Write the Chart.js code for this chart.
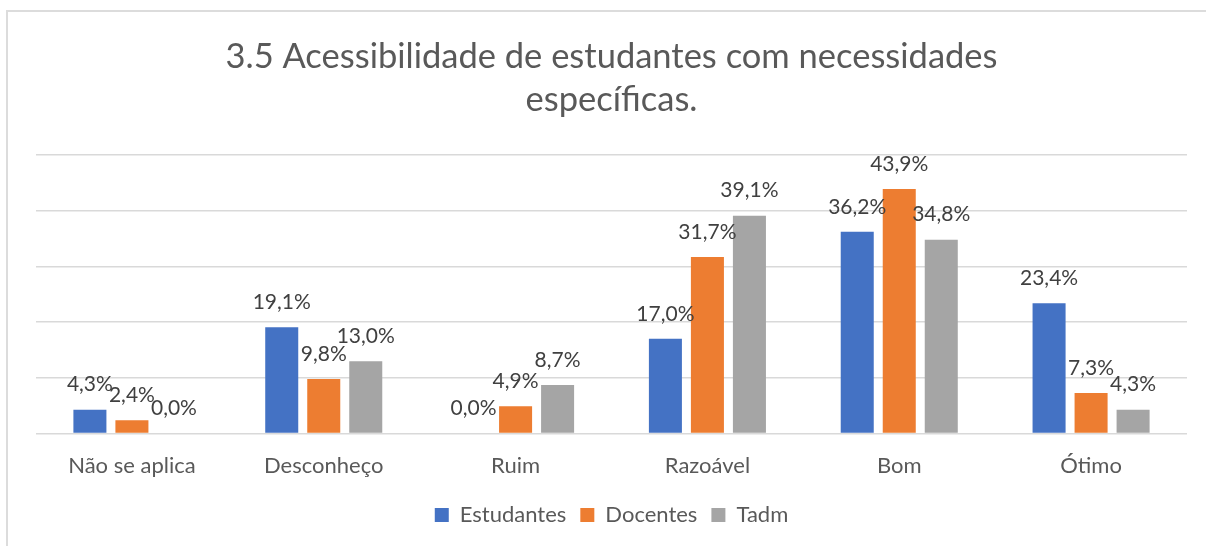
<!DOCTYPE html>
<html>
<head>
<meta charset="utf-8">
<script src="https://cdn.jsdelivr.net/npm/chart.js@4.4.1/dist/chart.umd.min.js"></script>
<style>
  html, body { margin: 0; padding: 0; background: #fff; }
  #caixa { position: relative; width: 1206px; height: 546px; overflow: hidden; }
  #moldura { position: absolute; left: 6px; top: 10px; width: 1300px; height: 700px;
             border-top: 2px solid #dcdcdc; border-left: 2px solid #dcdcdc; pointer-events: none; }
  canvas { position: absolute; left: 0; top: 0; }
</style>
</head>
<body>
<div id="caixa">
  <canvas id="grafico" width="1206" height="546"></canvas>
  <div id="moldura"></div>
</div>
<script>
// Dados do gráfico (percentuais)
const categorias = ['Não se aplica', 'Desconheço', 'Ruim', 'Razoável', 'Bom', 'Ótimo'];
const estudantes = [4.3, 19.1, 0.0, 17.0, 36.2, 23.4];
const docentes = [2.4, 9.8, 4.9, 31.7, 43.9, 7.3];
const tadm = [0.0, 13.0, 8.7, 39.1, 34.8, 4.3];
const titulo = ['3.5 Acessibilidade de estudantes com necessidades', 'específicas.'];

const fonte = 'Lato, "Open Sans", sans-serif';

// Rótulos de dados acima das barras (formato pt-BR)
const rotulosPlugin = {
    id: 'rotulos',
    afterDatasetsDraw(chart) {
        const ctx = chart.ctx;
        ctx.save();
        ctx.font = '21px ' + fonte;
        ctx.fillStyle = '#404040';
        ctx.textAlign = 'center';
        ctx.textBaseline = 'middle';
        chart.data.datasets.forEach((ds, i) => {
            chart.getDatasetMeta(i).data.forEach((barra, j) => {
                const txt = ds.data[j].toFixed(1).replace('.', ',') + '%';
                ctx.fillText(txt, barra.x, barra.y - 25);
            });
        });
        ctx.restore();
    }
};

const ctx = document.getElementById('grafico').getContext('2d');
new Chart(ctx, {
    type: 'bar',
    data: {
        labels: categorias,
        datasets: [
            { label: 'Estudantes', data: estudantes, backgroundColor: '#4472C4' },
            { label: 'Docentes', data: docentes, backgroundColor: '#ED7D31' },
            { label: 'Tadm', data: tadm, backgroundColor: '#A5A5A5' }
        ]
    },
    options: {
        responsive: false,
        animation: false,
        categoryPercentage: 0.657,
        barPercentage: 0.786,
        layout: { padding: { left: 36, right: 19, top: 0, bottom: 10 } },
        plugins: {
            title: {
                display: true,
                text: titulo,
                color: '#595959',
                font: { family: fonte, size: 34.5, weight: 'normal', lineHeight: 1.26 },
                padding: { top: 35, bottom: 33 }
            },
            legend: {
                position: 'bottom',
                labels: {
                    color: '#595959',
                    font: { family: fonte, size: 22 },
                    boxWidth: 14,
                    boxHeight: 14,
                    padding: 14
                }
            },
            tooltip: { enabled: false }
        },
        scales: {
            x: {
                grid: { display: false },
                border: { display: false },
                ticks: { color: '#595959', font: { family: fonte, size: 22 }, padding: 11 }
            },
            y: {
                min: 0,
                max: 50,
                ticks: { display: false, stepSize: 10 },
                grid: { color: '#d9d9d9', lineWidth: 1.5, drawTicks: false },
                border: { display: false },
                afterFit(escala) { escala.width = 0; }
            }
        }
    },
    plugins: [rotulosPlugin]
});
</script>
</body>
</html>
